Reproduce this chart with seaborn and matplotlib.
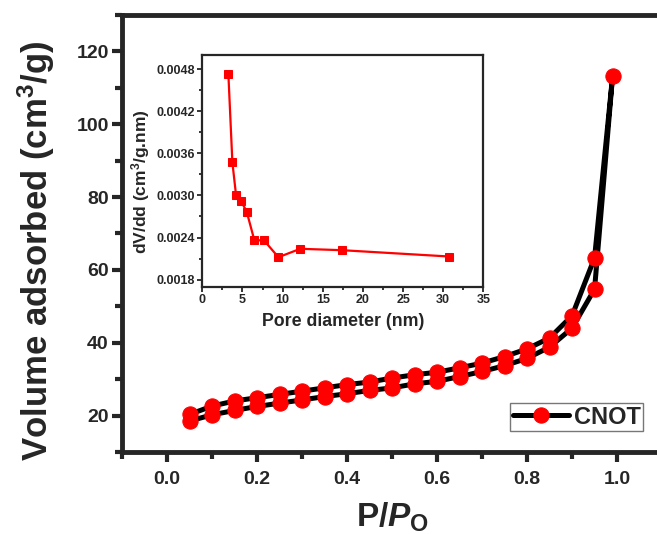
import matplotlib
matplotlib.use("Agg")
import matplotlib.pyplot as plt
import seaborn as sns
import pandas as pd
from matplotlib.ticker import MultipleLocator

# -------------------------------
# Data
# -------------------------------
p_rel = [0.05, 0.10, 0.15, 0.20, 0.25, 0.30, 0.35, 0.40, 0.45, 0.50,
         0.55, 0.60, 0.65, 0.70, 0.75, 0.80, 0.85, 0.90, 0.95]
p_top = 0.99
v_top = 113.1
v_ads = [18.5, 20.2, 21.4, 22.5, 23.4, 24.3, 25.2, 26.0, 26.9, 27.6,
         28.7, 29.4, 30.7, 32.1, 33.7, 35.7, 38.8, 44.0, 54.7]
v_des = [20.3, 22.6, 24.0, 24.9, 25.8, 26.7, 27.6, 28.5, 29.2, 30.3,
         31.2, 31.9, 33.1, 34.4, 36.2, 38.3, 41.3, 47.4, 63.3]

pore_d = [3.24, 3.74, 4.20, 4.82, 5.52, 6.48, 7.68, 9.47, 12.2, 17.4, 30.76]
dv_dd = [0.00473, 0.00347, 0.00300, 0.00292, 0.00277, 0.00236, 0.00236,
         0.00212, 0.00224, 0.00222, 0.00213]

sns.set_style("ticks")
plt.rcParams['font.family'] = ['Liberation Sans', 'DejaVu Sans']
plt.rcParams['font.weight'] = 'bold'
plt.rcParams['mathtext.fontset'] = 'custom'
plt.rcParams['mathtext.rm'] = 'Liberation Sans:bold'
plt.rcParams['mathtext.bf'] = 'Liberation Sans:bold'
plt.rcParams['mathtext.it'] = 'Liberation Sans:italic:bold'

# loop: adsorption up, then desorption back down
iso = pd.DataFrame({
    'p': p_rel + [p_top] + p_rel[::-1],
    'v': v_ads + [v_top] + v_des[::-1],
})
psd = pd.DataFrame({'d': pore_d, 'dv': dv_dd})

fig = plt.figure(figsize=(6.57, 5.34), dpi=100)
ax = fig.add_axes([0.1857, 0.1536, 0.822, 0.8184])

sns.lineplot(data=iso, x='p', y='v', sort=False, estimator=None, ax=ax,
             color='black', lw=3.6, marker='o', markersize=11,
             markerfacecolor='#ff0000', markeredgecolor='#ff0000',
             label='CNOT')

ax.set_xlim(-0.1, 1.1)
ax.set_ylim(10, 130)
ax.xaxis.set_minor_locator(MultipleLocator(0.1))
ax.yaxis.set_major_locator(MultipleLocator(20))
ax.yaxis.set_minor_locator(MultipleLocator(10))
ax.set_xticks([0.0, 0.2, 0.4, 0.6, 0.8, 1.0])
ax.set_xticklabels(['0.0', '0.2', '0.4', '0.6', '0.8', '1.0'])
ax.tick_params(which='major', direction='out', length=7.5, width=3,
               labelsize=14)
ax.tick_params(axis='x', which='major', pad=6)
ax.tick_params(axis='y', which='major', pad=2)
ax.tick_params(which='minor', direction='out', length=4.7, width=3)
for s in ax.spines.values():
    s.set_linewidth(3.5)
ax.set_xlabel('')
ax.set_ylabel('')

leg = ax.legend(loc='lower right', bbox_to_anchor=(0.965, 0.048),
                borderaxespad=0, fancybox=False, edgecolor='#555555',
                handlelength=2.4, handletextpad=0.2, borderpad=0.1,
                prop={'weight': 'bold', 'size': 17})
leg.get_frame().set_linewidth(1.0)

fig.text(0.055, 0.53, r'Volume adsorbed (cm$^{3}$/g)', rotation=90,
         ha='center', va='center', fontsize=25, fontweight='bold')
fig.text(0.597, 0.013, r'P/$P_{\mathrm{O}}$', ha='center', va='baseline',
         fontsize=24, fontweight='bold')

# -------------------------------
# Inset: pore size distribution
# -------------------------------
axi = fig.add_axes([0.308, 0.4631, 0.4277, 0.4339])
sns.lineplot(data=psd, x='d', y='dv', ax=axi, color='#ff0000', lw=1.6,
             marker='s', markersize=6, markeredgecolor='#ff0000')
axi.set_xlim(0, 35)
axi.set_ylim(0.0017, 0.0050)
axi.xaxis.set_major_locator(MultipleLocator(5))
axi.xaxis.set_minor_locator(MultipleLocator(2.5))
axi.set_yticks([0.0018, 0.0024, 0.0030, 0.0036, 0.0042, 0.0048])
axi.set_yticklabels(['0.0018', '0.0024', '0.0030', '0.0036', '0.0042', '0.0048'])
axi.yaxis.set_minor_locator(MultipleLocator(0.0003))
axi.tick_params(which='major', direction='out', length=3.5, width=1.3,
                labelsize=9, pad=2)
axi.tick_params(which='minor', direction='out', length=2, width=1.3)
for s in axi.spines.values():
    s.set_linewidth(1.6)
axi.set_xlabel('Pore diameter (nm)', fontsize=12.8, fontweight='bold', labelpad=5)
axi.set_ylabel(r'dV/dd (cm$^{3}$/g.nm)', fontsize=12.5, fontweight='bold')
axi.yaxis.set_label_coords(-0.178, 0.455)

fig.savefig('out.png', dpi=100)
